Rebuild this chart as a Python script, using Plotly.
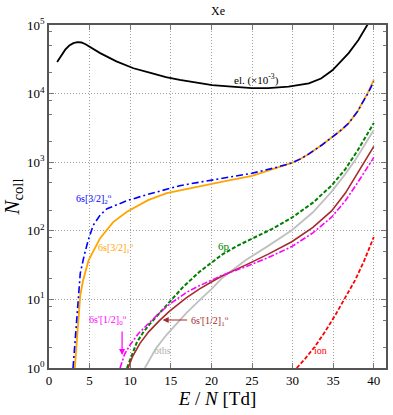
import plotly.graph_objects as go

# reduced field E/N [Td] and number of collisions per curve
el_E = [1, 1.5, 2, 2.5, 3, 3.5, 4, 4.5, 5, 6.3, 8.3, 10.4, 12.5, 14.4, 16.1, 18.5, 20.1, 22.5, 25, 27, 29.5, 32, 33.5, 34.9, 36, 36.9, 38.1, 39.3, 40]
el_N = [28800, 36300, 43700, 50100, 54300, 56200, 55600, 52500, 47900, 38900, 29500, 23400, 20000, 17400, 15800, 14100, 13300, 12600, 12000, 12000, 12600, 14100, 16600, 21900, 29500, 38900, 60300, 105000, 145000]

s32_2_E = [2.96, 3.3, 3.6, 3.85, 4.34, 4.83, 5.44, 6.3, 7.15, 9.6, 12.2, 14.5, 16.1, 18.5, 22, 25, 28, 29.9, 31, 32, 33.6, 34.9, 36, 36.9, 38, 38.5, 39.3, 40]
s32_2_N = [1, 3.6, 11.5, 24, 44, 73, 120, 170, 210, 275, 340, 400, 455, 510, 600, 690, 840, 975, 1120, 1320, 1780, 2340, 2950, 3700, 5500, 7000, 10200, 15000]

s32_1_E = [3.18, 3.5, 3.85, 4.2, 4.87, 6.3, 7.9, 9.6, 12.2, 14.5, 18.5, 22, 25, 28, 29.9, 31, 32, 33.6, 34.9, 36, 36.9, 38, 38.5, 39.3, 40]
s32_1_N = [1, 3.6, 11.5, 19, 37, 78, 134, 190, 280, 355, 450, 540, 630, 830, 975, 1120, 1320, 1780, 2340, 2950, 3700, 5500, 7100, 10500, 15800]

p6_E = [9.6, 10.2, 10.8, 11.6, 12.4, 13.6, 14.9, 16.5, 18.5, 20.1, 21.4, 23, 25, 27.5, 29.9, 32.5, 34.8, 36.5, 38, 40]
p6_N = [1, 1.58, 2.34, 3.31, 4.37, 6.31, 9.33, 15.1, 25.1, 35.5, 45.7, 58.9, 75.9, 107, 155, 257, 457, 794, 1480, 3720]

s12_0_E = [8.75, 9.3, 10, 10.4, 11, 12, 13.4, 14.85, 16.9, 18.5, 20.1, 21.3, 24.3, 27, 29.9, 32.5, 34.8, 36.5, 38, 40]
s12_0_N = [1, 1.58, 2.19, 2.57, 3.16, 4.17, 6.03, 8.51, 12.6, 15.8, 19.5, 22.4, 30.2, 40.7, 58.9, 93.3, 158, 275, 501, 1175]

s12_1_E = [9.75, 10.3, 11.2, 12.3, 13.6, 14.85, 16.9, 18.5, 20.1, 21.3, 24.2, 27, 29.9, 32.5, 34.8, 36.5, 38, 40]
s12_1_N = [1, 1.48, 2.29, 3.39, 4.9, 6.76, 10.5, 14.1, 18.2, 21.9, 31.6, 45.7, 69.2, 112, 195, 355, 692, 1700]

oths_E = [11.8, 12.5, 13.2, 14.45, 15.7, 16.9, 18.9, 20, 21.4, 24.2, 27, 29.9, 32.5, 34.8, 36.5, 37.7, 40]
oths_N = [1, 1.41, 1.95, 3.02, 4.47, 6.31, 10.7, 14.1, 20.9, 37.2, 60.3, 102, 186, 372, 676, 1070, 2950]

ion_E = [30.5, 31.5, 32.8, 34, 35.3, 36.5, 37.7, 38.8, 40]
ion_N = [1, 1.35, 2.09, 3.39, 6.03, 10.5, 19.1, 36.3, 81.3]

x_ticks = [0, 5, 10, 15, 20, 25, 30, 35, 40]
y_ticks = [1, 10, 100, 1000, 10000, 100000]
y_ticktext = ["10<sup>%d</sup>" % i for i in range(6)]
y_minor = [m * 10 ** k for k in range(5) for m in (2, 5, 8)]

SERIF = "Liberation Serif"

series = [
    (el_E, el_N, "#000000", "solid", 1.8),
    (oths_E, oths_N, "#c0c0c0", "solid", 1.8),
    (s32_1_E, s32_1_N, "#ffa500", "solid", 1.8),
    (s32_2_E, s32_2_N, "#0000ff", "7px,3px,2px,3px", 1.6),
    (p6_E, p6_N, "#008000", "4px,2px", 2),
    (s12_1_E, s12_1_N, "#a52a2a", "solid", 1.6),
    (s12_0_E, s12_0_N, "#ff00ff", "6px,2px,2px,2px", 1.6),
    (ion_E, ion_N, "#ff0000", "4px,2px", 1.8),
]

fig = go.Figure()
for xs, ys, color, dash, width in series:
    fig.add_trace(
        go.Scatter(
            x=xs,
            y=ys,
            mode="lines",
            line=dict(color=color, width=width, dash=dash),
            hoverinfo="skip",
        )
    )


def label(text, x, y, color, size=10):
    fig.add_annotation(
        x=x, y=y, xref="x", yref="y", text=text, showarrow=False,
        font=dict(family=SERIF, size=size, color=color),
    )


label("el. (×10<sup>-3</sup>)", 25.5, 4.21, "#000000", 11)
label("6s[3/2]<sub>2</sub><sup>o</sup>", 5.5, 2.47, "#0000ff")
label("6s[3/2]<sub>1</sub><sup>o</sup>", 8.3, 1.75, "#ffa500")
label("6p", 21.6, 1.78, "#008000", 11)
label("6s'[1/2]<sub>0</sub><sup>o</sup>", 7.3, 0.70, "#ff00ff")
label("6s'[1/2]<sub>1</sub><sup>o</sup>", 19.8, 0.69, "#a52a2a")
label("oths", 14.0, 0.25, "#b0b0b0")
label("ion", 33.4, 0.25, "#ff0000")

# arrows pointing at the curves
fig.add_annotation(
    x=9.0, y=0.19, xref="x", yref="y", ax=0, ay=-25, text="", showarrow=True,
    arrowhead=2, arrowsize=1, arrowwidth=1.2, arrowcolor="#ff00ff",
)
fig.add_annotation(
    x=14.0, y=0.70, xref="x", yref="y", ax=26, ay=0, text="", showarrow=True,
    arrowhead=2, arrowsize=1, arrowwidth=1.2, arrowcolor="#a52a2a",
)

fig.update_xaxes(
    range=[0, 41.5],
    tickvals=x_ticks,
    ticks="inside", ticklen=5, tickcolor="#777777",
    showline=True, linecolor="#555555", linewidth=1.5, mirror="allticks",
    showgrid=True, gridcolor="#a0a0a0", griddash="1px,2px", gridwidth=1,
    zeroline=False,
    tickfont=dict(family=SERIF, size=13, color="black"),
    title=dict(text="<i>E</i> / <i>N</i> [Td]", font=dict(family=SERIF, size=19, color="black"), standoff=4),
)
fig.update_yaxes(
    type="log", range=[0, 5],
    tickvals=y_ticks, ticktext=y_ticktext,
    ticks="inside", ticklen=5, tickcolor="#777777",
    minor=dict(tickmode="array", tickvals=y_minor, ticks="inside", ticklen=3, tickcolor="#777777", showgrid=False),
    showline=True, linecolor="#555555", linewidth=1.5, mirror="allticks",
    showgrid=True, gridcolor="#a0a0a0", griddash="1px,2px", gridwidth=1,
    zeroline=False,
    tickfont=dict(family=SERIF, size=13, color="black"),
    title=dict(text="<i>N</i><sub>coll</sub>", font=dict(family=SERIF, size=21, color="black"), standoff=4),
)

fig.update_layout(
    width=393,
    height=415,
    margin=dict(l=49, r=5, t=25, b=47),
    showlegend=False,
    plot_bgcolor="white",
    paper_bgcolor="white",
    font=dict(family=SERIF),
    title=dict(text="Xe", x=0.555, xanchor="center", y=0.985, yanchor="top",
               font=dict(family=SERIF, size=12, color="black")),
)

fig.write_html(
    "out.html",
    config={"displayModeBar": False},
    post_script="document.body.style.margin='0';",
)
